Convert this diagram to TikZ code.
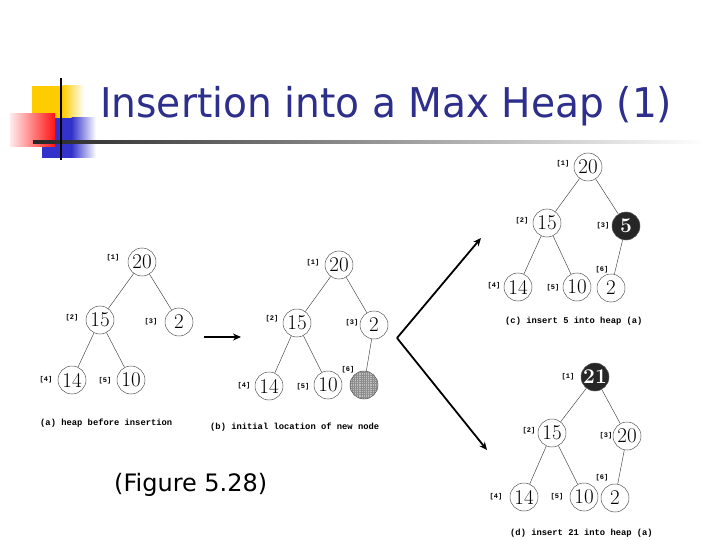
\documentclass[tikz,border=0pt]{standalone}
\usepackage{fontspec}
\newfontfamily\titlefont{DejaVu Sans}
\newfontfamily\capfont{Liberation Mono}
\usetikzlibrary{arrows.meta,patterns.meta}
\definecolor{titleblue}{RGB}{46,46,140}
\definecolor{decoyellow}{RGB}{255,204,0}
\definecolor{decoblue}{RGB}{51,51,204}
\definecolor{decored}{RGB}{255,20,20}
\tikzset{
  hnode/.style={circle,draw=black!65,line width=0.5pt,minimum size=28pt,inner sep=0pt,
    font=\fontsize{21}{21}\selectfont},
  darknode/.style={hnode,fill=black!85,text=white,font=\fontsize{21}{21}\selectfont\bfseries},
  hatchnode/.style={hnode,preaction={fill=black!25},
    preaction={pattern={Lines[angle=90,distance=2.2pt,line width=0.6pt]},pattern color=black!45},
    pattern={Lines[angle=0,distance=2.2pt,line width=0.6pt]},pattern color=black!45},
  idx/.style={font=\capfont\fontsize{7}{7}\selectfont\bfseries,inner sep=0pt},
  treeedge/.style={draw=black!75,line width=0.45pt},
  captext/.style={font=\capfont\fontsize{8.8}{8.8}\selectfont\bfseries,inner sep=0pt,anchor=base west},
  bigarrow/.style={draw=black,line width=1.8pt,-{Stealth[length=8pt,width=7pt]}}
}
\begin{document}
\begin{tikzpicture}[x=1pt,y=-1pt]
\useasboundingbox (0,0) rectangle (720,540);
\fill[white] (0,0) rectangle (720,540);
% decoration
\fill[decoyellow] (32,86) rectangle (63,118);
\shade[left color=decoyellow,right color=white] (62.5,86) rectangle (84,118);
\fill[decoblue] (42,118) rectangle (72,158);
\shade[left color=decoblue,right color=white] (71.5,118) rectangle (96,158);
\shade[left color=decored!8,right color=decored] (10,114) rectangle (55,147);
\shade[left color=black!85,right color=white] (33,140.5) rectangle (705,143.5);
\fill[black] (60,78) rectangle (62.2,160);
% title
\node[anchor=base west,inner sep=0pt,text=titleblue,font=\titlefont\fontsize{41}{41}\selectfont] (title) at (100,118)
  {\scalebox{0.955}[1]{Insertion into a Max Heap (1)}};
\node[anchor=base west,inner sep=0pt,font=\titlefont\fontsize{24}{24}\selectfont] (fig) at (114,491) {(Figure 5.28)};
% tree a
\node[hnode] (a1) at (142,262) {20};
\node[hnode] (a2) at (100,320) {15};
\node[hnode] (a3) at (179,322) {2};
\node[hnode] (a4) at (72,380) {14};
\node[hnode] (a5) at (131,380) {10};
\draw[treeedge] (a1)--(a2) (a1)--(a3) (a2)--(a4) (a2)--(a5);
\node[idx] (la1) at (113,258) {[1]};
\node[idx] (la2) at (72,318) {[2]};
\node[idx] (la3) at (151,322) {[3]};
\node[idx] (la4) at (46,380) {[4]};
\node[idx] (la5) at (105,381) {[5]};
\node[captext] (ca) at (40,425) {(a) heap before insertion};
% tree b
\node[hnode] (b1) at (339,265) {20};
\node[hnode] (b2) at (297,323) {15};
\node[hnode] (b3) at (374,325) {2};
\node[hnode] (b4) at (269,386) {14};
\node[hnode] (b5) at (328,385) {10};
\node[hatchnode] (b6) at (364,385) {};
\draw[treeedge] (b1)--(b2) (b1)--(b3) (b2)--(b4) (b2)--(b5) (b3)--(b6);
\node[idx] (lb1) at (313,263) {[1]};
\node[idx] (lb2) at (272,319) {[2]};
\node[idx] (lb3) at (352,323) {[3]};
\node[idx] (lb4) at (244,386) {[4]};
\node[idx] (lb5) at (303,387) {[5]};
\node[idx] (lb6) at (348,370) {[6]};
\node[captext] (cb) at (210,429) {(b) initial location of new node};
% tree c
\node[hnode] (c1) at (588,167) {20};
\node[hnode] (c2) at (547,223) {15};
\node[darknode] (c3) at (626,226) {5};
\node[hnode] (c4) at (518,287) {14};
\node[hnode] (c5) at (577,287) {10};
\node[hnode] (c6) at (611,288) {2};
\draw[treeedge] (c1)--(c2) (c1)--(c3) (c2)--(c4) (c2)--(c5) (c3)--(c6);
\node[idx] (lc1) at (563,164) {[1]};
\node[idx] (lc2) at (522,221) {[2]};
\node[idx] (lc3) at (603,226) {[3]};
\node[idx] (lc4) at (494,286) {[4]};
\node[idx] (lc5) at (553,288) {[5]};
\node[idx] (lc6) at (602,270) {[6]};
\node[captext] (cc) at (505,323) {(c) insert 5 into heap (a)};
% tree d
\node[darknode] (d1) at (595,377) {21};
\node[hnode] (d2) at (552,433) {15};
\node[hnode] (d3) at (627,436) {20};
\node[hnode] (d4) at (524,497) {14};
\node[hnode] (d5) at (584,497) {10};
\node[hnode] (d6) at (615,498) {2};
\draw[treeedge] (d1)--(d2) (d1)--(d3) (d2)--(d4) (d2)--(d5) (d3)--(d6);
\node[idx] (ld1) at (568,377) {[1]};
\node[idx] (ld2) at (529,431) {[2]};
\node[idx] (ld3) at (606,436) {[3]};
\node[idx] (ld4) at (496,497) {[4]};
\node[idx] (ld5) at (557,497) {[5]};
\node[idx] (ld6) at (602,478) {[6]};
\node[captext] (cd) at (510,535) {(d) insert 21 into heap (a)};
% arrows
\coordinate (s1) at (204,337);
\coordinate (e1) at (241,337);
\draw[bigarrow] (s1) -- (e1);
\coordinate (v) at (397,338);
\coordinate (up) at (481,238);
\coordinate (dn) at (487,450);
\draw[bigarrow] (v) -- (up);
\draw[bigarrow] (v) -- (dn);
\end{tikzpicture}
\end{document}
